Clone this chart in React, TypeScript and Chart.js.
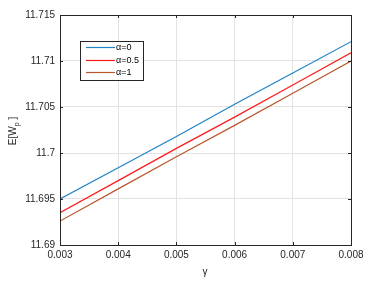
import React, { useEffect, useRef } from "react";
import { Chart, registerables } from "chart.js";

Chart.register(...registerables);

const gammaValues = [0.003, 0.004, 0.005, 0.006, 0.007, 0.008];
const alpha0 = [11.695, 11.6984, 11.7018, 11.7053, 11.7087, 11.7121];
const alpha05 = [11.6935, 11.697, 11.7005, 11.7039, 11.7074, 11.7109];
const alpha1 = [11.6926, 11.6961, 11.6996, 11.703, 11.7065, 11.71];
const seriesLabels = ["α=0", "α=0.5", "α=1"];
const seriesColors = ["#1F82C8", "#FF1A1A", "#B9572B"];
const yTicks = [11.69, 11.695, 11.7, 11.705, 11.71, 11.715];
const xTicks = [0.003, 0.004, 0.005, 0.006, 0.007, 0.008];

const FONT = "'Liberation Sans', Arial, sans-serif";

const framePlugin = {
  id: "frame",
  afterDatasetsDraw(chart: any) {
    const { ctx, chartArea: a, scales } = chart;
    ctx.save();
    ctx.strokeStyle = "#262626";
    ctx.lineWidth = 1;
    ctx.strokeRect(Math.round(a.left) + 0.5, Math.round(a.top) + 0.5, Math.round(a.right - a.left), Math.round(a.bottom - a.top));
    const tl = 3;
    ctx.beginPath();
    for (const v of xTicks) {
      const x = Math.round(scales.x.getPixelForValue(v)) + 0.5;
      ctx.moveTo(x, a.bottom);
      ctx.lineTo(x, a.bottom - tl);
      ctx.moveTo(x, a.top);
      ctx.lineTo(x, a.top + tl);
    }
    for (const v of yTicks) {
      const y = Math.round(scales.y.getPixelForValue(v)) + 0.5;
      ctx.moveTo(a.left, y);
      ctx.lineTo(a.left + tl, y);
      ctx.moveTo(a.right, y);
      ctx.lineTo(a.right - tl, y);
    }
    ctx.stroke();

    // legend
    const lx = 80, ly = 41, lw = 63, lh = 39;
    ctx.fillStyle = "#ffffff";
    ctx.fillRect(lx, ly, lw, lh);
    ctx.strokeStyle = "#262626";
    ctx.strokeRect(lx + 0.5, ly + 0.5, lw, lh);
    const rows = [47.5, 60.5, 72.5];
    ctx.font = `9px ${FONT}`;
    ctx.textBaseline = "middle";
    ctx.textAlign = "left";
    rows.forEach((ry, i) => {
      ctx.strokeStyle = seriesColors[i];
      ctx.lineWidth = 1.2;
      ctx.beginPath();
      ctx.moveTo(86, ry);
      ctx.lineTo(115, ry);
      ctx.stroke();
      ctx.fillStyle = "#000000";
      ctx.fillText(seriesLabels[i], 116, ry + 0.5);
    });

    // axis titles
    ctx.fillStyle = "#262626";
    ctx.font = `10px ${FONT}`;
    ctx.textAlign = "center";
    ctx.textBaseline = "alphabetic";
    ctx.fillText("γ", 205, 275);

    ctx.save();
    ctx.translate(16, 131);
    ctx.rotate(-Math.PI / 2);
    ctx.textAlign = "left";
    const base = "E[W";
    ctx.font = `10px ${FONT}`;
    const wBase = ctx.measureText(base).width;
    ctx.font = `7px ${FONT}`;
    const wSub = ctx.measureText("p").width;
    ctx.font = `10px ${FONT}`;
    const wEnd = ctx.measureText(" ]").width;
    const total = wBase + wSub + wEnd;
    let x0 = -total / 2;
    ctx.fillText(base, x0, 0);
    ctx.font = `7px ${FONT}`;
    ctx.fillText("p", x0 + wBase, 3);
    ctx.font = `10px ${FONT}`;
    ctx.fillText(" ]", x0 + wBase + wSub, 0);
    ctx.restore();
    ctx.restore();
  },
};

export default function App() {
  const ref = useRef<HTMLCanvasElement>(null);
  useEffect(() => {
    document.body.style.margin = "0";
    const series = [alpha0, alpha05, alpha1];
    const chart = new Chart(ref.current as HTMLCanvasElement, {
      type: "line",
      data: {
        datasets: series.map((s, i) => ({
          label: seriesLabels[i],
          data: s.map((v, j) => ({ x: gammaValues[j], y: v })),
          borderColor: seriesColors[i],
          borderWidth: 1.2,
          pointRadius: 0,
          fill: false,
          tension: 0,
        })),
      },
      options: {
        animation: false,
        responsive: false,
        maintainAspectRatio: false,
        layout: { padding: { left: 0, top: 15, right: 25, bottom: 0 } },
        plugins: { legend: { display: false }, tooltip: { enabled: false } },
        scales: {
          x: {
            type: "linear",
            min: 0.003,
            max: 0.008,
            afterBuildTicks: (s: any) => {
              s.ticks = xTicks.map((v) => ({ value: v }));
            },
            afterFit: (s: any) => {
              s.height = 37;
            },
            ticks: {
              padding: 4,
              color: "#262626",
              font: { family: FONT, size: 10 },
              callback: (v: any) => Number(v).toFixed(3),
            },
            grid: { color: "#e3e3e3", drawTicks: false },
            border: { display: false },
          },
          y: {
            type: "linear",
            min: 11.69,
            max: 11.715,
            afterBuildTicks: (s: any) => {
              s.ticks = yTicks.map((v) => ({ value: v }));
            },
            afterFit: (s: any) => {
              s.width = 60;
            },
            ticks: {
              padding: 5,
              color: "#262626",
              font: { family: FONT, size: 10 },
              callback: (v: any) => String(Number(Number(v).toFixed(3))),
            },
            grid: { color: "#e3e3e3", drawTicks: false },
            border: { display: false },
          },
        },
      },
      plugins: [framePlugin],
    });
    return () => chart.destroy();
  }, []);
  return (
    <div style={{ position: "absolute", left: 0, top: 0, width: 376, height: 282, background: "#fff" }}>
      <canvas ref={ref} width={376} height={282} style={{ width: 376, height: 282 }} />
    </div>
  );
}
